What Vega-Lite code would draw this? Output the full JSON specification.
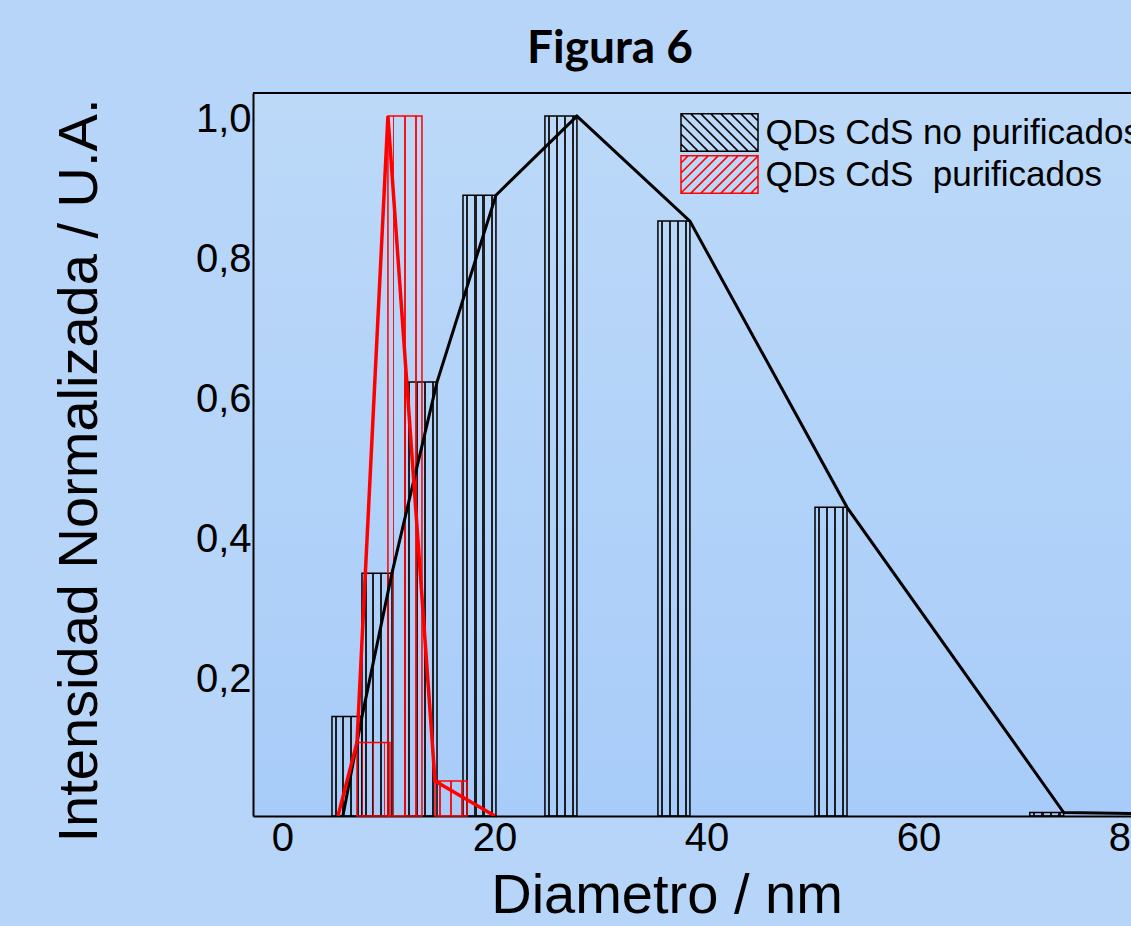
{
  "$schema": "https://vega.github.io/schema/vega-lite/v6.json",
  "width": 878,
  "height": 723,
  "autosize": {"type": "none"},
  "padding": {"left": 253, "top": 93, "right": 0, "bottom": 110},
  "background": "#b7d5f8",
  "title": {"text": "Figura 6", "font": "Lato", "fontSize": 46, "fontWeight": "bold", "color": "black", "anchor": "middle", "frame": "group", "dx": -82, "dy": 47, "offset": 30, "baseline": "alphabetic"},
  "datasets": {
    "bars": [
      {"series": "QDs CdS no purificados", "start": 4.67, "end": 7.5, "value": 0.142},
      {"series": "QDs CdS no purificados", "start": 7.5, "end": 10.33, "value": 0.347},
      {"series": "QDs CdS no purificados", "start": 11.56, "end": 14.58, "value": 0.62},
      {"series": "QDs CdS no purificados", "start": 17.03, "end": 20.14, "value": 0.887},
      {"series": "QDs CdS no purificados", "start": 24.76, "end": 27.78, "value": 1.0},
      {"series": "QDs CdS no purificados", "start": 35.42, "end": 38.44, "value": 0.85},
      {"series": "QDs CdS no purificados", "start": 50.24, "end": 53.26, "value": 0.441},
      {"series": "QDs CdS no purificados", "start": 70.5, "end": 73.7, "value": 0.005},
      {"series": "QDs CdS purificados", "start": 7.03, "end": 10.14, "value": 0.105},
      {"series": "QDs CdS purificados", "start": 9.95, "end": 13.16, "value": 1.0},
      {"series": "QDs CdS purificados", "start": 14.39, "end": 17.41, "value": 0.05}
    ],
    "lines": [
      {"series": "QDs CdS no purificados", "diameter": 5.7, "intensity": 0},
      {"series": "QDs CdS no purificados", "diameter": 7.5, "intensity": 0.142},
      {"series": "QDs CdS no purificados", "diameter": 10.33, "intensity": 0.347},
      {"series": "QDs CdS no purificados", "diameter": 14.58, "intensity": 0.62},
      {"series": "QDs CdS no purificados", "diameter": 20.14, "intensity": 0.887},
      {"series": "QDs CdS no purificados", "diameter": 27.78, "intensity": 1.0},
      {"series": "QDs CdS no purificados", "diameter": 38.44, "intensity": 0.85},
      {"series": "QDs CdS no purificados", "diameter": 53.26, "intensity": 0.441},
      {"series": "QDs CdS no purificados", "diameter": 73.7, "intensity": 0.005},
      {"series": "QDs CdS no purificados", "diameter": 82, "intensity": 0.003},
      {"series": "QDs CdS purificados", "diameter": 5.24, "intensity": 0},
      {"series": "QDs CdS purificados", "diameter": 7.03, "intensity": 0.105},
      {"series": "QDs CdS purificados", "diameter": 9.95, "intensity": 1.0},
      {"series": "QDs CdS purificados", "diameter": 14.39, "intensity": 0.05},
      {"series": "QDs CdS purificados", "diameter": 20.05, "intensity": 0}
    ]
  },
  "layer": [
    {
      "data": {"name": "bars"},
      "transform": [{"filter": "datum.series == 'QDs CdS no purificados'"}],
      "mark": {
        "type": "rect",
        "stroke": "black",
        "strokeWidth": 1.5,
        "fill": {
          "gradient": "linear", "x1": 0, "y1": 0, "x2": 1, "y2": 0,
          "stops": [
            {"offset": 0, "color": "rgba(0,0,0,0)"},
            {"offset": 0.085, "color": "rgba(0,0,0,0)"},
            {"offset": 0.085, "color": "rgba(0,0,0,0.85)"},
            {"offset": 0.165, "color": "rgba(0,0,0,0.85)"},
            {"offset": 0.165, "color": "rgba(0,0,0,0)"},
            {"offset": 0.335, "color": "rgba(0,0,0,0)"},
            {"offset": 0.335, "color": "rgba(0,0,0,0.85)"},
            {"offset": 0.415, "color": "rgba(0,0,0,0.85)"},
            {"offset": 0.415, "color": "rgba(0,0,0,0)"},
            {"offset": 0.585, "color": "rgba(0,0,0,0)"},
            {"offset": 0.585, "color": "rgba(0,0,0,0.85)"},
            {"offset": 0.665, "color": "rgba(0,0,0,0.85)"},
            {"offset": 0.665, "color": "rgba(0,0,0,0)"},
            {"offset": 0.835, "color": "rgba(0,0,0,0)"},
            {"offset": 0.835, "color": "rgba(0,0,0,0.85)"},
            {"offset": 0.915, "color": "rgba(0,0,0,0.85)"},
            {"offset": 0.915, "color": "rgba(0,0,0,0)"},
            {"offset": 1, "color": "rgba(0,0,0,0)"}
          ]
        }
      },
      "encoding": {
        "x": {
          "field": "start", "type": "quantitative",
          "scale": {"domain": [-2.78, 80.05], "nice": false, "zero": false},
          "axis": {
            "orient": "bottom", "values": [0, 20, 40, 60, 80], "format": "d",
            "labelFontSize": 40, "labelPadding": 2, "labelFlush": false, "labelOverlap": false,
            "title": "Diametro / nm", "titleFontSize": 56, "titleX": 413.5, "titleY": 96,
            "titleBaseline": "alphabetic", "titleAlign": "center"
          }
        },
        "x2": {"field": "end"},
        "y": {
          "field": "value", "type": "quantitative",
          "scale": {"domain": [0, 1.033], "nice": false},
          "axis": {
            "orient": "left",
            "values": [0.2, 0.4, 0.6, 0.8, 1.0],
            "labelExpr": "replace(format(datum.value, '.1f'), '.', ',')",
            "labelFontSize": 40, "labelPadding": 2, "labelOffset": 3, "labelFlush": false,
            "title": "Intensidad Normalizada / U.A.", "titleFontSize": 56, "titleAngle": 270,
            "titleX": -157, "titleY": 377, "titleBaseline": "alphabetic", "titleAlign": "center"
          }
        },
        "y2": {"datum": 0}
      }
    },
    {
      "data": {"name": "bars"},
      "transform": [{"filter": "datum.series == 'QDs CdS purificados'"}],
      "mark": {
        "type": "rect",
        "stroke": "#ff0000",
        "strokeWidth": 1.5,
        "fill": {
          "gradient": "linear", "x1": 0, "y1": 0, "x2": 1, "y2": 0,
          "stops": [
            {"offset": 0, "color": "rgba(255,0,0,0)"},
            {"offset": 0.14, "color": "rgba(255,0,0,0)"},
            {"offset": 0.14, "color": "rgba(255,0,0,0.9)"},
            {"offset": 0.19, "color": "rgba(255,0,0,0.9)"},
            {"offset": 0.19, "color": "rgba(255,0,0,0)"},
            {"offset": 0.475, "color": "rgba(255,0,0,0)"},
            {"offset": 0.475, "color": "rgba(255,0,0,0.9)"},
            {"offset": 0.525, "color": "rgba(255,0,0,0.9)"},
            {"offset": 0.525, "color": "rgba(255,0,0,0)"},
            {"offset": 0.81, "color": "rgba(255,0,0,0)"},
            {"offset": 0.81, "color": "rgba(255,0,0,0.9)"},
            {"offset": 0.86, "color": "rgba(255,0,0,0.9)"},
            {"offset": 0.86, "color": "rgba(255,0,0,0)"},
            {"offset": 1, "color": "rgba(255,0,0,0)"}
          ]
        }
      },
      "encoding": {
        "x": {"field": "start", "type": "quantitative", "scale": {"domain": [-2.78, 80.05], "nice": false, "zero": false}},
        "x2": {"field": "end"},
        "y": {"field": "value", "type": "quantitative", "scale": {"domain": [0, 1.033], "nice": false}},
        "y2": {"datum": 0}
      }
    },
    {
      "data": {"name": "lines"},
      "transform": [{"filter": "datum.series == 'QDs CdS no purificados'"}],
      "mark": {"type": "line", "color": "black", "strokeWidth": 3, "clip": true},
      "encoding": {
        "x": {"field": "diameter", "type": "quantitative", "scale": {"domain": [-2.78, 80.05], "nice": false, "zero": false}},
        "y": {"field": "intensity", "type": "quantitative", "scale": {"domain": [0, 1.033], "nice": false}}
      }
    },
    {
      "data": {"name": "lines"},
      "transform": [{"filter": "datum.series == 'QDs CdS purificados'"}],
      "mark": {"type": "line", "color": "#ff0000", "strokeWidth": 3.5, "clip": true},
      "encoding": {
        "x": {"field": "diameter", "type": "quantitative", "scale": {"domain": [-2.78, 80.05], "nice": false, "zero": false}},
        "y": {"field": "intensity", "type": "quantitative", "scale": {"domain": [0, 1.033], "nice": false}}
      }
    },
    {
      "data": {"values": [{}]},
      "mark": {"type": "rule", "color": "black", "strokeWidth": 2},
      "encoding": {
        "y": {"datum": 1.033, "type": "quantitative", "scale": {"domain": [0, 1.033], "nice": false}}
      }
    },
    {
      "data": {"name": "bars"},
      "mark": {"type": "point", "filled": false, "opacity": 0},
      "encoding": {
        "x": {"field": "start", "type": "quantitative", "scale": {"domain": [-2.78, 80.05], "nice": false, "zero": false}},
        "y": {"field": "value", "type": "quantitative", "scale": {"domain": [0, 1.033], "nice": false}},
        "shape": {
          "field": "series", "type": "nominal",
          "scale": {
            "domain": ["QDs CdS no purificados", "QDs CdS purificados"],
            "range": [
              "M-1,-0.49H1V0.49H-1Z M-1,0.3L-0.81,0.49 M-1,0.04L-0.55,0.49 M-1,-0.22L-0.29,0.49 M-1,-0.48L-0.03,0.49 M-0.75,-0.49L0.23,0.49 M-0.49,-0.49L0.49,0.49 M-0.23,-0.49L0.75,0.49 M0.03,-0.49L1,0.48 M0.29,-0.49L1,0.22 M0.55,-0.49L1,-0.04 M0.81,-0.49L1,-0.3",
              "M-1,-0.49H1V0.49H-1Z M1,0.3L0.81,0.49 M1,0.04L0.55,0.49 M1,-0.22L0.29,0.49 M1,-0.48L0.03,0.49 M0.75,-0.49L-0.23,0.49 M0.49,-0.49L-0.49,0.49 M0.23,-0.49L-0.75,0.49 M-0.03,-0.49L-1,0.48 M-0.29,-0.49L-1,0.22 M-0.55,-0.49L-1,-0.04 M-0.81,-0.49L-1,-0.3"
            ]
          },
          "legend": {
            "title": null, "orient": "none", "legendX": 427, "legendY": 19.5,
            "labelExpr": "datum.label == 'QDs CdS purificados' ? 'QDs CdS\u00a0 purificados' : datum.label"
          }
        },
        "stroke": {
          "field": "series", "type": "nominal",
          "scale": {"domain": ["QDs CdS no purificados", "QDs CdS purificados"], "range": ["black", "#ff0000"]},
          "legend": {
            "title": null, "orient": "none", "legendX": 427, "legendY": 19.5,
            "labelExpr": "datum.label == 'QDs CdS purificados' ? 'QDs CdS\u00a0 purificados' : datum.label"
          }
        }
      }
    }
  ],
  "config": {
    "view": {
      "stroke": null,
      "fill": {
        "gradient": "linear", "x1": 0, "y1": 0, "x2": 0, "y2": 1,
        "stops": [{"offset": 0, "color": "#bcd9f8"}, {"offset": 1, "color": "#a8ccf9"}]
      }
    },
    "axis": {
      "labelFont": "Liberation Sans", "labelColor": "black",
      "titleFont": "Liberation Sans", "titleFontWeight": "normal", "titleColor": "black",
      "domainColor": "black", "domainWidth": 2, "grid": false, "ticks": false, "tickSize": 0
    },
    "legend": {
      "padding": 0, "offset": 0,
      "labelFont": "Liberation Sans", "labelFontSize": 35, "labelColor": "black", "labelOffset": 6.5, "labelLimit": 1000,
      "symbolSize": 5929, "symbolStrokeWidth": 1.5, "symbolOpacity": 1, "symbolFillColor": "rgba(0,0,0,0)",
      "clipHeight": 40, "rowPadding": 2
    }
  }
}
